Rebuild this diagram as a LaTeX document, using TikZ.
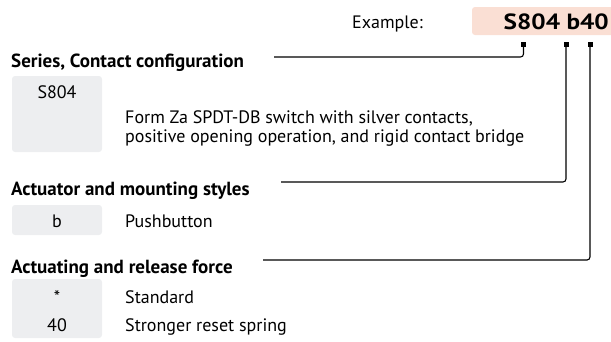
\documentclass[tikz,border=0pt]{standalone}
\usepackage{fontspec}
\setmainfont{PT Sans}
\definecolor{pinkbg}{HTML}{FADFD4}
\definecolor{greybg}{HTML}{EDEEF0}
\tikzset{
  txt/.style={inner sep=0pt, anchor=base west, font=\fontsize{18}{21}\selectfont},
  head/.style={inner sep=0pt, anchor=base west, font=\fontsize{19}{22}\selectfont\bfseries},
  code/.style={inner sep=0pt, anchor=base, font=\fontsize{18}{21}\selectfont},
  keybox/.style={fill=greybg, rounded corners=3pt, draw=none},
  marker/.style={fill=black, inner sep=0pt, minimum size=5pt, draw=none},
  conn/.style={line width=1.1pt, rounded corners=3pt},
}
\begin{document}
\begin{tikzpicture}[x=1pt,y=-1pt]
\useasboundingbox (0,0) rectangle (611,341);
% example
\fill[pinkbg, rounded corners=3pt] (472,7) rectangle (615,35);
\node[txt] (exlabel) at (352,28) {Example:};
\node[inner sep=0pt, anchor=base east, font=\fontsize{22}{25}\selectfont\bfseries] (excode) at (609,29.5) {\scalebox{1.15}[1]{S804 b40}};
\node[marker] (m1) at (523.5,44.5) {};
\node[marker] (m2) at (566,44.5) {};
\node[marker] (m3) at (590,44.5) {};
% series
\node[head] (h1) at (11,67) {Series, Contact configuration};
\fill[keybox] (12,76) rectangle (102,152);
\node[code] (c1) at (57,98) {S804};
\node[txt] (d1a) at (125,123) {Form Za SPDT-DB switch with silver contacts,};
\node[txt] (d1b) at (125,142) {positive opening operation, and rigid contact bridge};
% actuator
\node[head] (h2) at (11,195) {Actuator and mounting styles};
\fill[keybox] (12,205) rectangle (102,235);
\node[code] (c2) at (57,227) {b};
\node[txt] (d2) at (125,227) {Pushbutton};
% force
\node[head] (h3) at (11,273) {Actuating and release force};
\fill[keybox] (12,279) rectangle (102,338);
\node[code] (c3) at (57,303) {*};
\node[txt] (d3) at (125,303) {Standard};
\node[code] (c4) at (57,331) {40};
\node[txt] (d4) at (125,331) {Stronger reset spring};
% connectors
\coordinate (e1) at (274,57);
\coordinate (e2) at (281,182);
\coordinate (e3) at (263,260);
\draw[conn] (m1.south) |- (e1);
\draw[conn] (m2.south) |- (e2);
\draw[conn] (m3.south) |- (e3);
\end{tikzpicture}
\end{document}
